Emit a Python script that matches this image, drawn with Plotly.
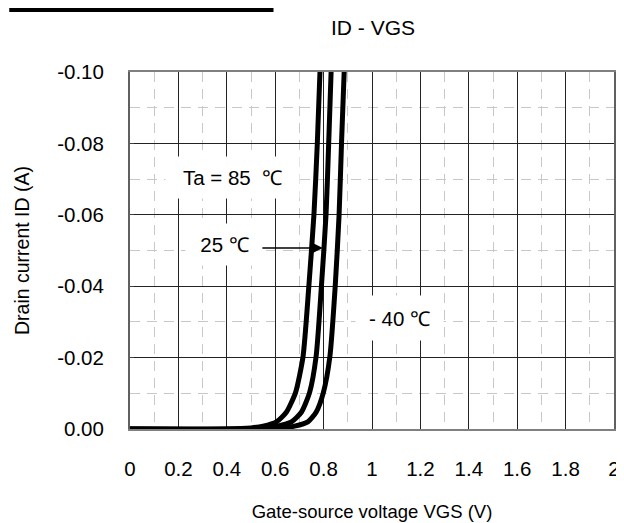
import plotly.graph_objects as go

# Data
id_levels = [0, 0, -0.0003, -0.0008, -0.002, -0.0047, -0.0102, -0.0203, -0.04, -0.06, -0.08, -0.1]
vgs_85 = [0, 0.40, 0.50, 0.55, 0.605, 0.646, 0.684, 0.715, 0.739, 0.760, 0.774, 0.785]
vgs_25 = [0, 0.45, 0.56, 0.61, 0.667, 0.708, 0.742, 0.769, 0.791, 0.810, 0.821, 0.831]
vgs_m40 = [0, 0.52, 0.63, 0.68, 0.735, 0.769, 0.799, 0.826, 0.848, 0.864, 0.874, 0.885]

x_ticks = [0, 0.2, 0.4, 0.6, 0.8, 1.0, 1.2, 1.4, 1.6, 1.8, 2.0]
x_tick_text = ["0", "0.2", "0.4", "0.6", "0.8", "1", "1.2", "1.4", "1.6", "1.8", "2"]
y_ticks = [0, -0.02, -0.04, -0.06, -0.08, -0.10]
y_tick_text = ["0.00", "-0.02", "-0.04", "-0.06", "-0.08", "-0.10"]
x_minor = [0.1, 0.3, 0.5, 0.7, 0.9, 1.1, 1.3, 1.5, 1.7, 1.9]
y_minor = [-0.01, -0.03, -0.05, -0.07, -0.09]

FONT = "Liberation Sans, Arial, sans-serif"

fig = go.Figure()
for xs in (vgs_85, vgs_25, vgs_m40):
    fig.add_trace(go.Scatter(
        x=xs, y=id_levels, mode="lines",
        line=dict(color="black", width=5, shape="spline", smoothing=0.6),
        showlegend=False, hoverinfo="skip",
    ))

fig.update_layout(
    width=624, height=523,
    margin=dict(l=122, r=13, t=64, b=96),
    paper_bgcolor="white", plot_bgcolor="white",
    font=dict(family=FONT, size=20.5, color="black"),
    title=dict(text="ID - VGS", x=0.585, xanchor="center", y=0.962, yanchor="middle",
               font=dict(family=FONT, size=21, color="black")),
    showlegend=False,
)

fig.update_xaxes(
    range=[0, 2], tickmode="array", tickvals=x_ticks, ticktext=x_tick_text,
    showgrid=True, gridcolor="#222222", gridwidth=1,
    minor=dict(tickvals=x_minor, showgrid=True, gridcolor="#c8c8c8", griddash="10px,7px", gridwidth=1),
    showline=True, linecolor="#808080", linewidth=2, mirror=True,
    ticks="", zeroline=False, ticklabelstandoff=20,
    title=dict(text="Gate-source voltage VGS (V)", font=dict(family=FONT, size=18.5), standoff=26),
)
fig.update_yaxes(
    range=[0, -0.1], tickmode="array", tickvals=y_ticks, ticktext=y_tick_text,
    showgrid=True, gridcolor="#222222", gridwidth=1,
    minor=dict(tickvals=y_minor, showgrid=True, gridcolor="#c8c8c8", griddash="10px,7px", gridwidth=1),
    showline=True, linecolor="#606060", linewidth=2, mirror=True,
    ticks="inside", ticklen=4, tickcolor="#404040", zeroline=False, ticklabelstandoff=20,
    title=dict(text="Drain current ID (A)", font=dict(family=FONT, size=19.5), standoff=22),
)

# Labels with white boxes
fig.add_annotation(x=0.423, y=-0.0704, text="Ta = 85  ℃", showarrow=False,
                   bgcolor="white", width=131, height=39, font=dict(size=20.5))
fig.add_annotation(x=0.391, y=-0.0517, text="25 ℃", showarrow=False,
                   bgcolor="white", width=75, height=39, font=dict(size=20.5))
fig.add_annotation(x=1.115, y=-0.0311, text="- 40 ℃", showarrow=False,
                   bgcolor="white", width=85, height=42, font=dict(size=20.5))
fig.add_annotation(x=0.797, y=-0.0507, ax=-62, ay=0, text="", showarrow=True,
                   arrowhead=2, arrowsize=1.4, arrowwidth=1.6, arrowcolor="black")

# Black bar at the very top-left of the image
fig.add_shape(type="rect", xref="paper", yref="paper",
              x0=-0.2495, x1=0.2965, y0=1.168, y1=1.18,
              fillcolor="black", line=dict(width=0))

fig.write_html("out.html")
